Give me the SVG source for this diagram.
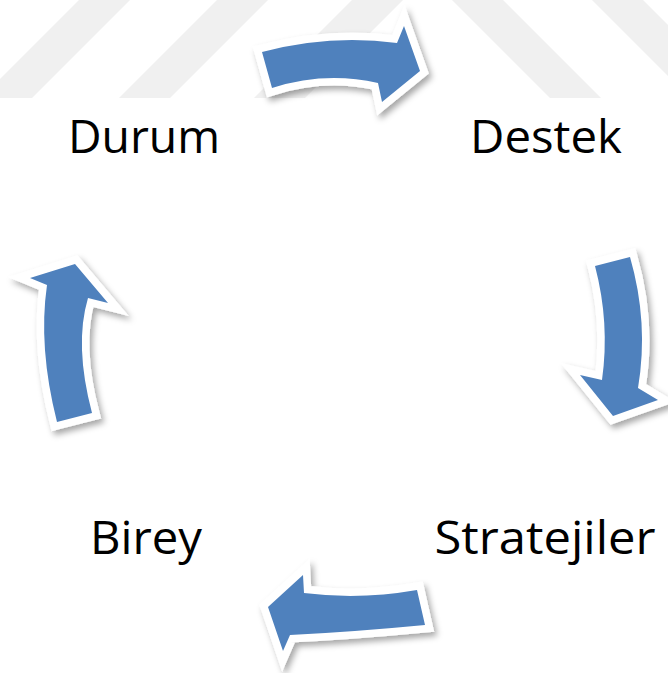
<svg xmlns="http://www.w3.org/2000/svg" width="668" height="673" viewBox="0 0 668 673">
  <defs>
    <style>
      .wm { fill: #f0f0f0; }
      .lbl { font-family: "Open Sans", "Noto Sans", "Liberation Sans", sans-serif; font-size: 46px; fill: #000000; text-anchor: middle; }
      .arrow { fill: #4f81bd; stroke: #ffffff; stroke-width: 15; stroke-linejoin: miter; stroke-miterlimit: 4; paint-order: stroke fill; }
    </style>
    <filter id="shadow" x="-20%" y="-20%" width="150%" height="150%">
      <feDropShadow dx="3" dy="4" stdDeviation="3" flood-color="#000000" flood-opacity="0.35"/>
    </filter>
  </defs>
  <rect width="668" height="673" fill="#ffffff"/>
  <g id="watermark">
    <polygon class="wm" points="79,0 130,0 32,98 -19,98"/>
    <polygon class="wm" points="217,0 268,0 170,98 119,98"/>
    <polygon class="wm" points="352,0 403,0 305,98 254,98"/>
    <polygon class="wm" points="452,0 503,0 601,98 550,98"/>
    <polygon class="wm" points="592,0 643,0 741,98 690,98"/>
  </g>
  <g id="connectors" filter="url(#shadow)">
    <path id="arrow-durum-destek" class="arrow" d="M262,52 Q330,34 397,43 L404,26 L420,71 L382,102 L378,83 Q325,71 272,88 Z"/>
    <path id="arrow-destek-stratejiler" class="arrow" d="M595,266 L630,257 Q649,323 638,388 L658,400 L613,416 L580,375 L602,380 Q610,323 595,266 Z"/>
    <path id="arrow-stratejiler-birey" class="arrow" d="M417,590 L425,625 Q352,632 290,635 L283,651 L268,607 L303,575 L304,593 Q360,600 417,590 Z"/>
    <path id="arrow-birey-durum" class="arrow" d="M57,422 L92,413 Q74,345 88,298 L108,303 L75,264 L30,278 L47,285 Q38,347 57,422 Z"/>
  </g>
  <g id="node-durum"><text class="lbl" x="144" y="153" textLength="152" lengthAdjust="spacingAndGlyphs">Durum</text></g>
  <g id="node-destek"><text class="lbl" x="546" y="153" textLength="152" lengthAdjust="spacingAndGlyphs">Destek</text></g>
  <g id="node-stratejiler"><text class="lbl" x="545" y="554" textLength="221" lengthAdjust="spacingAndGlyphs">Stratejiler</text></g>
  <g id="node-birey"><text class="lbl" x="146" y="554" textLength="112" lengthAdjust="spacingAndGlyphs">Birey</text></g>
</svg>
